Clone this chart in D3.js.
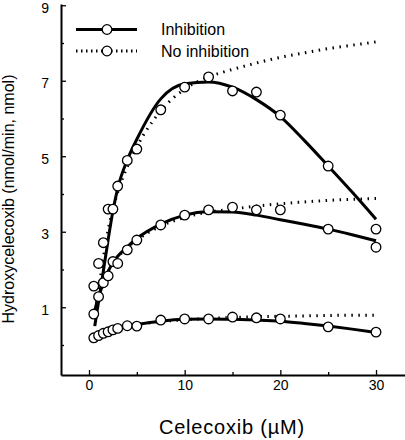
<!DOCTYPE html>
<html><head><meta charset="utf-8">
<script src="https://cdn.jsdelivr.net/npm/d3@7"></script>
<style>
html,body{margin:0;padding:0;background:#fff;}
svg{display:block;font-family:"Liberation Sans",Arial,Helvetica,sans-serif;}
</style></head>
<body>
<svg id="chart" width="405" height="440"></svg>
<script>
// ---- data ----
const concentrations = [0.5,1,1.5,2,2.5,3,4,5,7.5,10,12.5,15,17.5,20,25,30];
const highEnzyme = [1.56,2.16,2.71,3.6,3.6,4.21,4.89,5.19,6.23,6.83,7.1,6.73,6.7,6.09,4.74,3.07];
const midEnzyme  = [0.82,1.28,1.65,1.83,2.21,2.16,2.52,2.78,3.18,3.44,3.58,3.65,3.58,3.58,3.07,2.59];
const lowEnzyme  = [0.19,0.25,0.31,0.35,0.40,0.44,0.51,0.50,0.66,0.69,0.69,0.74,0.72,0.69,0.48,0.34];

const fitConc       = [0.6,1,1.5,2,2.5,3,4,5,7.5,10,12.5,15,17.5,20,22.5,25,27.5,30];
const highInhib     = [0.5,1.15,1.96,2.79,3.55,4.15,4.9,5.45,6.52,6.92,6.97,6.83,6.5,6.05,5.42,4.74,4.05,3.33];
const highNoInhib   = [0.75,1.45,2.3,3.05,3.6,4.05,4.72,5.25,6.2,6.78,7.1,7.3,7.47,7.62,7.74,7.85,7.94,8.03];
const midInhib      = [0.9,1.3,1.62,1.95,2.18,2.35,2.6,2.82,3.2,3.44,3.53,3.52,3.44,3.32,3.2,3.07,2.92,2.76];
const midNoInhib    = [0.9,1.3,1.63,1.93,2.13,2.32,2.58,2.78,3.15,3.38,3.52,3.6,3.68,3.74,3.79,3.83,3.86,3.88];
const lowInhib      = [0.2,0.25,0.3,0.35,0.39,0.43,0.49,0.54,0.63,0.68,0.69,0.68,0.66,0.63,0.57,0.5,0.42,0.33];
const lowNoInhib    = [0.2,0.25,0.3,0.35,0.39,0.43,0.49,0.54,0.62,0.67,0.7,0.73,0.75,0.76,0.77,0.78,0.79,0.79];

const xTicks = [0,5,10,15,20,25,30];
const xTickLabels = ["0","","10","","20","","30"];
const yTicks = [0,1,2,3,4,5,6,7,8,9];
const yTickLabels = ["","1","","3","","5","","7","","9"];
const legendLabels = ["Inhibition","No inhibition"];
const xTitle = "Celecoxib (\u00B5M)";
const yTitle = "Hydroxycelecoxib (nmol/min, nmol)";

// ---- drawing ----
const svg = d3.select("#chart");
const x = d3.scaleLinear().domain([-2.927, 33.03]).range([61, 405]);
const y = d3.scaleLinear().domain([-0.795, 9.033]).range([375, 4]);

// x axis
const xAxis = d3.axisBottom(x).tickValues(xTicks)
  .tickFormat((d,i) => xTickLabels[i]).tickSizeInner(-5).tickSizeOuter(0).tickPadding(5);
const gx = svg.append("g").attr("transform","translate(0,375)").call(xAxis);
gx.selectAll(".tick line").attr("y2", (d,i) => xTickLabels[i] ? -5 : -3).attr("stroke-width",1.3);
gx.select(".domain").attr("stroke-width",2);
gx.selectAll("text").attr("font-size",14).attr("font-family","Liberation Sans, Arial, sans-serif").attr("fill","#000");

// y axis
const yAxis = d3.axisLeft(y).tickValues(yTicks)
  .tickFormat((d,i) => yTickLabels[i]).tickSizeInner(-5).tickSizeOuter(0).tickPadding(12);
const gy = svg.append("g").attr("transform","translate(61,0)").call(yAxis);
gy.selectAll(".tick line").attr("x2", (d,i) => yTickLabels[i] ? 5 : 3).attr("stroke-width",1.3);
gy.select(".domain").attr("stroke-width",2);
gy.selectAll("text").attr("font-size",14).attr("dy","0.5em").attr("font-family","Liberation Sans, Arial, sans-serif").attr("fill","#000");

// titles
svg.append("text").attr("x",232).attr("y",434).attr("text-anchor","middle")
  .attr("font-size",20).attr("letter-spacing","0.8px").text(xTitle);
svg.append("text").attr("transform","translate(14,199) rotate(-90)").attr("text-anchor","middle")
  .attr("font-size",16).text(yTitle);

// curves
const line = d3.line().x((d,i)=>x(fitConc[i])).y(d=>y(d)).curve(d3.curveMonotoneX);
const solidCurves = [highInhib, midInhib, lowInhib];
const dottedCurves = [highNoInhib, midNoInhib, lowNoInhib];
svg.append("g").selectAll("path").data(dottedCurves).join("path")
  .attr("d", line).attr("fill","none").attr("stroke","#000")
  .attr("stroke-width",3).attr("stroke-dasharray","1.5,5.5");
svg.append("g").selectAll("path").data(solidCurves).join("path")
  .attr("d", line).attr("fill","none").attr("stroke","#000").attr("stroke-width",3);

// points
const series = [highEnzyme, midEnzyme, lowEnzyme];
series.forEach(s => {
  svg.append("g").selectAll("circle").data(s).join("circle")
    .attr("cx",(d,i)=>x(concentrations[i])).attr("cy",d=>y(d)).attr("r",4.8)
    .attr("fill","#fff").attr("stroke","#000").attr("stroke-width",1.3);
});

// legend
const leg = svg.append("g");
const legY = [29.5, 51];
leg.append("line").attr("x1",76).attr("x2",137).attr("y1",legY[0]).attr("y2",legY[0])
  .attr("stroke","#000").attr("stroke-width",3);
leg.append("line").attr("x1",76).attr("x2",137).attr("y1",legY[1]).attr("y2",legY[1])
  .attr("stroke","#000").attr("stroke-width",3).attr("stroke-dasharray","1.5,3.5");
legY.forEach((ly,i) => {
  leg.append("circle").attr("cx",107).attr("cy",ly).attr("r",4.8)
    .attr("fill","#fff").attr("stroke","#000").attr("stroke-width",1.3);
  leg.append("text").attr("x",161).attr("y",ly+5.6).attr("font-size",16).text(legendLabels[i]);
});
</script>
</body></html>
